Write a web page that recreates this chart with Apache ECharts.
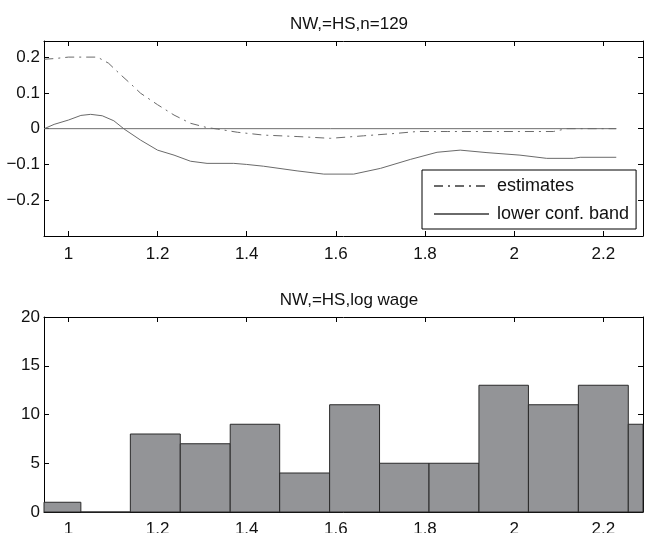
<!DOCTYPE html>
<html>
<head>
<meta charset="utf-8">
<script src="https://cdn.jsdelivr.net/npm/echarts@6/dist/echarts.min.js"></script>
<style>
html,body{margin:0;padding:0;background:#fff;}
#chart{width:645px;height:533px;}
</style>
</head>
<body>
<div id="chart"></div>
<script>
// ---- data ----
const topTitle = 'NW,=HS,n=129';
const bottomTitle = 'NW,=HS,log wage';
const xTicks = [1, 1.2, 1.4, 1.6, 1.8, 2, 2.2];
const yTicksTop = [-0.2, -0.1, 0, 0.1, 0.2];
const yTicksBottom = [0, 5, 10, 15, 20];

const estX = [0.946, 0.97, 1.0, 1.03, 1.065, 1.09, 1.117, 1.14, 1.162, 1.2, 1.237, 1.274, 1.311, 1.334, 1.379, 1.438, 1.513, 1.588, 1.662, 1.737, 1.782, 1.85, 1.95, 2.05, 2.088, 2.118, 2.229];
const estY = [0.194, 0.196, 0.2, 0.2, 0.2, 0.183, 0.151, 0.125, 0.099, 0.067, 0.038, 0.015, 0.003, -0.001, -0.01, -0.018, -0.022, -0.027, -0.02, -0.013, -0.008, -0.008, -0.008, -0.008, -0.008, 0, 0];

const lowX = [0.946, 0.968, 1.0, 1.028, 1.05, 1.076, 1.102, 1.125, 1.162, 1.2, 1.237, 1.274, 1.311, 1.371, 1.40, 1.438, 1.513, 1.573, 1.64, 1.70, 1.767, 1.80, 1.827, 1.879, 1.939, 2.013, 2.073, 2.133, 2.148, 2.229];
const lowY = [0, 0.012, 0.024, 0.037, 0.04, 0.036, 0.022, -0.001, -0.032, -0.06, -0.074, -0.091, -0.097, -0.097, -0.1, -0.105, -0.118, -0.127, -0.127, -0.111, -0.086, -0.075, -0.066, -0.06, -0.067, -0.074, -0.083, -0.083, -0.08, -0.08];

const zeroX = [0.946, 2.229];
const zeroY = [0, 0];

const binEdges = [0.916, 1.028, 1.139, 1.251, 1.363, 1.474, 1.586, 1.698, 1.809, 1.921, 2.032, 2.144, 2.256, 2.367];
const counts = [1, 0, 8, 7, 9, 4, 11, 5, 5, 13, 11, 13, 9];

// ---- chart ----
const FONT = '"Liberation Sans", Arial, Helvetica, sans-serif';
const XMIN = 0.9453, XMAX = 2.289;
const pairs = (xs, ys) => xs.map((x, i) => [x, ys[i]]);
const fmt = v => String(parseFloat(Number(v).toFixed(2))).replace('-', '\u2212');

function xAxis(gridIndex, position, labels, margin) {
  return {
    type: 'value', gridIndex, position, min: XMIN, max: XMAX,
    axisLine: { show: true, onZero: false, lineStyle: { color: '#000', width: 1 } },
    axisTick: { show: true, inside: true, length: 5, customValues: xTicks, lineStyle: { color: '#000' } },
    axisLabel: { show: labels, customValues: xTicks, formatter: fmt, fontSize: 17, color: '#111', margin: margin || 8, fontFamily: FONT },
    splitLine: { show: false }
  };
}
function yAxis(gridIndex, position, labels, min, max, ticks) {
  return {
    type: 'value', gridIndex, position, min, max,
    axisLine: { show: true, onZero: false, lineStyle: { color: '#000', width: 1 } },
    axisTick: { show: true, inside: true, length: 5, customValues: ticks, lineStyle: { color: '#000' } },
    axisLabel: { show: labels, customValues: ticks, formatter: fmt, fontSize: 17, color: '#111', margin: 4, fontFamily: FONT },
    splitLine: { show: false }
  };
}

const chart = echarts.init(document.getElementById('chart'), null, { renderer: 'canvas' });
chart.setOption({
  animation: false,
  backgroundColor: '#fff',
  title: [
    { text: topTitle, left: 344, top: 11, textAlign: 'center',
      textStyle: { fontSize: 17, fontWeight: 'normal', color: '#111', fontFamily: FONT } },
    { text: bottomTitle, left: 344, top: 287, textAlign: 'center',
      textStyle: { fontSize: 17, fontWeight: 'normal', color: '#111', fontFamily: FONT } }
  ],
  legend: {
    data: ['estimates', 'lower conf. band'],
    orient: 'vertical', left: 422, top: 170,
    padding: [7, 7, 6, 11],
    itemWidth: 55, itemHeight: 18, itemGap: 10,
    itemStyle: { opacity: 0 },
    backgroundColor: '#fff', borderColor: '#000', borderWidth: 1, borderRadius: 0,
    textStyle: { fontSize: 18, color: '#111', fontFamily: FONT, padding: [0, 0, 0, 3] }
  },
  grid: [
    { left: 44, top: 41, width: 599, height: 195, containLabel: false, outerBoundsMode: 'none' },
    { left: 44, top: 317, width: 599, height: 195, containLabel: false, outerBoundsMode: 'none' }
  ],
  xAxis: [
    xAxis(0, 'bottom', true, 10), xAxis(0, 'top', false),
    xAxis(1, 'bottom', true, 9), xAxis(1, 'top', false)
  ],
  yAxis: [
    yAxis(0, 'left', true, -0.3, 0.245, yTicksTop), yAxis(0, 'right', false, -0.3, 0.245, yTicksTop),
    yAxis(1, 'left', true, 0, 20, yTicksBottom), yAxis(1, 'right', false, 0, 20, yTicksBottom)
  ],
  series: [
    { name: 'zero', type: 'line', xAxisIndex: 0, yAxisIndex: 0, data: pairs(zeroX, zeroY),
      symbol: 'none', lineStyle: { color: '#6e6e6e', width: 1 }, silent: true, z: 1 },
    { name: 'estimates', type: 'line', xAxisIndex: 0, yAxisIndex: 0, data: pairs(estX, estY),
      symbol: 'none', itemStyle: { color: '#6a6a6a', opacity: 0 },
      lineStyle: { color: '#6a6a6a', width: 1, type: [9, 5, 2, 5], opacity: 1 }, z: 2 },
    { name: 'lower conf. band', type: 'line', xAxisIndex: 0, yAxisIndex: 0, data: pairs(lowX, lowY),
      symbol: 'none', itemStyle: { color: '#6a6a6a', opacity: 0 },
      lineStyle: { color: '#6a6a6a', width: 1, opacity: 1 }, z: 2 },
    { name: 'hist', type: 'custom', xAxisIndex: 2, yAxisIndex: 2,
      data: counts.map((c, i) => [binEdges[i], binEdges[i + 1], c]),
      encode: { x: [0, 1], y: 2 },
      renderItem: function (params, api) {
        const l = api.value(0), r = api.value(1), h = api.value(2);
        const p0 = api.coord([l, h]);
        const p1 = api.coord([r, 0]);
        const cs = params.coordSys;
        const shape = echarts.graphic.clipRectByRect(
          { x: p0[0], y: p0[1], width: p1[0] - p0[0], height: p1[1] - p0[1] },
          { x: cs.x, y: cs.y, width: cs.width, height: cs.height });
        return shape && { type: 'rect', shape: shape,
          style: { fill: '#939497', stroke: '#2a2a2a', lineWidth: 1 } };
      }
    }
  ]
});
</script>
</body>
</html>
